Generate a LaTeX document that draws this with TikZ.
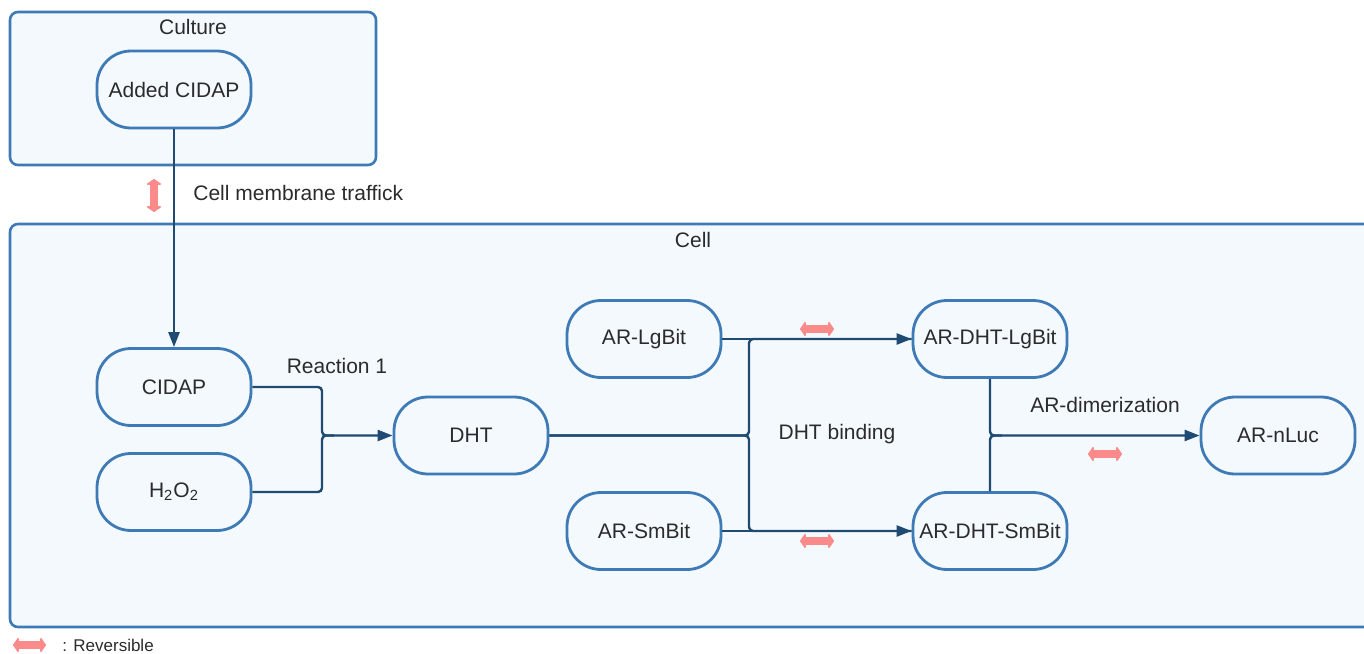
\documentclass[tikz,border=0pt]{standalone}
\usepackage{fontspec}
\setmainfont{Liberation Sans}
\usetikzlibrary{arrows.meta}

\definecolor{boxline}{HTML}{3E7BB6}
\definecolor{boxfill}{HTML}{F4F9FE}
\definecolor{linkcol}{HTML}{1F4B73}
\definecolor{revcol}{HTML}{FB8A8A}
\definecolor{txtcol}{HTML}{2B2B2B}

\tikzset{
  region/.style={draw=boxline,fill=boxfill,line width=1.3pt,rounded corners=4pt},
  pill/.style={draw=boxline,fill=boxfill,line width=1.4pt,rounded corners=17pt,
    minimum width=77pt,minimum height=38.5pt,inner sep=0pt,text=txtcol,font=\fontsize{10.5}{12.6}\selectfont},
  lbl/.style={text=txtcol,font=\fontsize{10.5}{12.6}\selectfont,inner sep=0pt},
  link/.style={draw=linkcol,line width=1.2pt,rounded corners=2pt},
  to/.style={link,-{Triangle[length=7.5pt,width=5.5pt]}},
  rev/.style={draw=revcol,line width=4.2pt,{Triangle[length=3pt,width=8.5pt,round]}-{Triangle[length=3pt,width=8.5pt,round]}}
}

\begin{document}
\begin{tikzpicture}[x=0.5pt,y=-0.5pt]
  \useasboundingbox (0,0) rectangle (1364,653);

  % compartments
  \draw[region] (10,12) rectangle (376,165);
  \draw[region] (10,224) rectangle (1380,627);
  \node[lbl] (culturelbl) at (193,27) {Culture};
  \node[lbl] (celllbl)    at (693,240) {Cell};

  % species
  \node[pill] (addedcidap) at (174,89.5) {Added CIDAP};
  \node[pill] (cidap)      at (174,387)  {CIDAP};
  \node[pill] (hho)        at (174,492)  {H\textsubscript{2}O\textsubscript{2}};
  \node[pill] (dht)        at (471,435.5) {DHT};
  \node[pill] (arlg)       at (644,339)  {AR-LgBit};
  \node[pill] (arsm)       at (644,531)  {AR-SmBit};
  \node[pill] (ardhtlg)    at (990,339)  {AR-DHT-LgBit};
  \node[pill] (ardhtsm)    at (990,531)  {AR-DHT-SmBit};
  \node[pill] (arnluc)     at (1278,435.5) {AR-nLuc};

  \coordinate (jreact) at (322,435.5);
  \coordinate (jbind)  at (749,435.5);
  \coordinate (jdimer) at (990,435.5);

  % membrane traffick
  \draw[to] (addedcidap) -- (cidap);
  \node[lbl,anchor=west] (traffick) at (193,193) {Cell membrane traffick};

  % reaction 1
  \draw[to] (cidap.east) -| (jreact) -- (dht.west);
  \draw[link] (hho.east) -| (jreact) -- ++(12,0);
  \node[lbl] (reactlbl) at (337,366) {Reaction 1};

  % DHT binding
  \draw[link] (dht.east) -- (jbind) |- (ardhtlg.west);
  \draw[link] (dht.east) -- (jbind) |- (ardhtsm.west);
  \draw[to] (arlg.east) -- (ardhtlg.west);
  \draw[to] (arsm.east) -- (ardhtsm.west);
  \node[lbl] (bindlbl) at (837,434) {DHT binding};

  % dimerization
  \draw[to] (ardhtlg.south) -- (jdimer) -- (arnluc.west);
  \draw[link] (ardhtsm.north) -- (jdimer) -- ++(12,0);
  \node[lbl] (dimerlbl) at (1105,405) {AR-dimerization};

  % reversible marks
  \draw[rev] (154,179) -- (154,212);
  \draw[rev] (800,329) -- (834,329);
  \draw[rev] (800,541) -- (834,541);
  \draw[rev] (1088,454) -- (1122,454);

  % legend
  \draw[rev] (13,645) -- (46,645);
  \node[lbl,anchor=west,font=\fontsize{8.5}{10}\selectfont] (revlbl) at (62,645) {: Reversible};
\end{tikzpicture}
\end{document}
